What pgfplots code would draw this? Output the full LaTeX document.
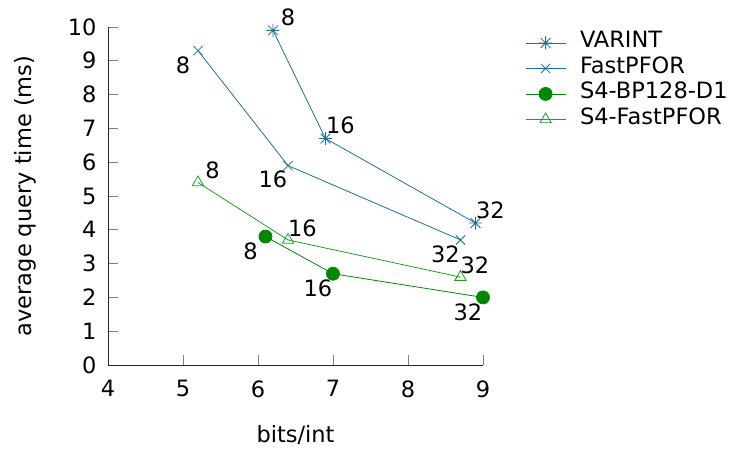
\documentclass[border=0pt]{standalone}
\usepackage{fontspec}
\setmainfont{DejaVu Sans}
\usepackage{pgfplots}
\pgfplotsset{compat=1.18}
\usetikzlibrary{calc}
\definecolor{cblue}{RGB}{30,112,150}
\definecolor{cgreen}{RGB}{0,136,0}
\definecolor{lgreen}{RGB}{30,160,30}
\pgfdeclareplotmark{gstar}{%
  \pgfpathmoveto{\pgfqpoint{-\pgfplotmarksize}{0pt}}\pgfpathlineto{\pgfqpoint{\pgfplotmarksize}{0pt}}%
  \pgfpathmoveto{\pgfqpoint{0pt}{-\pgfplotmarksize}}\pgfpathlineto{\pgfqpoint{0pt}{\pgfplotmarksize}}%
  \pgfpathmoveto{\pgfqpoint{-0.75\pgfplotmarksize}{-0.75\pgfplotmarksize}}\pgfpathlineto{\pgfqpoint{0.75\pgfplotmarksize}{0.75\pgfplotmarksize}}%
  \pgfpathmoveto{\pgfqpoint{-0.75\pgfplotmarksize}{0.75\pgfplotmarksize}}\pgfpathlineto{\pgfqpoint{0.75\pgfplotmarksize}{-0.75\pgfplotmarksize}}%
  \pgfusepathqstroke}
\pgfplotstableread{
x y l
6.2 9.9 8
6.9 6.7 16
8.9 4.2 32
}\varint
\pgfplotstableread{
x y l
5.2 9.3 8
6.4 5.9 16
8.7 3.7 32
}\fastpfor
\pgfplotstableread{
x y l
6.1 3.8 8
7.0 2.7 16
9.0 2.0 32
}\bpd
\pgfplotstableread{
x y l
5.2 5.4 8
6.4 3.7 16
8.7 2.6 32
}\sfast
\begin{document}
\begin{tikzpicture}
\begin{axis}[
  scale only axis, width=375pt, height=338pt,
  xmin=4, xmax=9, ymin=0, ymax=10,
  xtick={4,...,9}, ytick={0,...,10},
  axis x line*=bottom, axis y line*=left,
  axis line style={-, black!85, line width=0.9pt},
  tick align=inside, major tick length=10pt,
  major tick style={gray, line width=0.9pt},
  clip=false,
  font=\fontsize{22.5}{26}\selectfont,
  /pgf/number format/assume math mode=true,
  ticklabel style={font=\fontsize{22.5}{26}\selectfont},
  xticklabel style={yshift=-12pt},
  yticklabel style={xshift=-8pt},
  xlabel={bits/int}, ylabel={average query time (ms)},
  xlabel style={at={(axis description cs:0.5,0)}, anchor=base, yshift=-78pt},
  ylabel style={at={(axis description cs:0,0.5)}, anchor=base, yshift=76pt},
  legend style={at={(rel axis cs:1,1)}, anchor=north west, xshift=42pt, yshift=-3pt,
    draw=none, fill=none, inner sep=0pt, row sep=0pt,
    /tikz/every odd column/.append style={column sep=12pt},
    nodes={inner sep=2pt, text height=15.5pt, text depth=6pt, font=\fontsize{22.5}{26}\selectfont}},
  legend cell align=left,
  legend image code/.code={\draw[mark repeat=2, mark phase=2] plot coordinates {(0pt,0pt) (20pt,0pt) (40pt,0pt)};},
  every node near coord/.append style={inner sep=0pt, text depth=0pt, anchor=center, text=black, font=\fontsize{22.5}{26}\selectfont},
  nodes near coords, point meta=explicit symbolic,
]
\addplot[cblue, line width=0.8pt, mark=gstar, mark size=6.5pt, mark options={line width=0.8pt},
  every node near coord/.append style={xshift=15pt, yshift=13pt}]
  table[x=x, y=y, meta=l] {\varint};
\addlegendentry{VARINT}
\addplot[cblue, line width=0.8pt, mark=x, mark size=6.5pt, mark options={line width=0.8pt},
  every node near coord/.append style={xshift=-15pt, yshift=-14pt}]
  table[x=x, y=y, meta=l] {\fastpfor};
\addlegendentry{FastPFOR}
\addplot[cgreen, line width=0.8pt, mark=*, mark size=6.5pt, mark options={fill=cgreen}, 
  every node near coord/.append style={xshift=-15pt, yshift=-14.5pt}]
  table[x=x, y=y, meta=l] {\bpd};
\addlegendentry{S4-BP128-D1}
\addplot[lgreen, line width=0.8pt, mark=triangle, mark size=6.5pt, mark options={line width=0.8pt},
  every node near coord/.append style={xshift=14.5pt, yshift=12pt}]
  table[x=x, y=y, meta=l] {\sfast};
\addlegendentry{S4-FastPFOR}
\coordinate (ll) at (rel axis cs:0,0);
\end{axis}
\pgfresetboundingbox
\path[use as bounding box] ($(ll)+(-108pt,-84pt)$) rectangle ($(ll)+(632pt,365pt)$);
\end{tikzpicture}
\end{document}
